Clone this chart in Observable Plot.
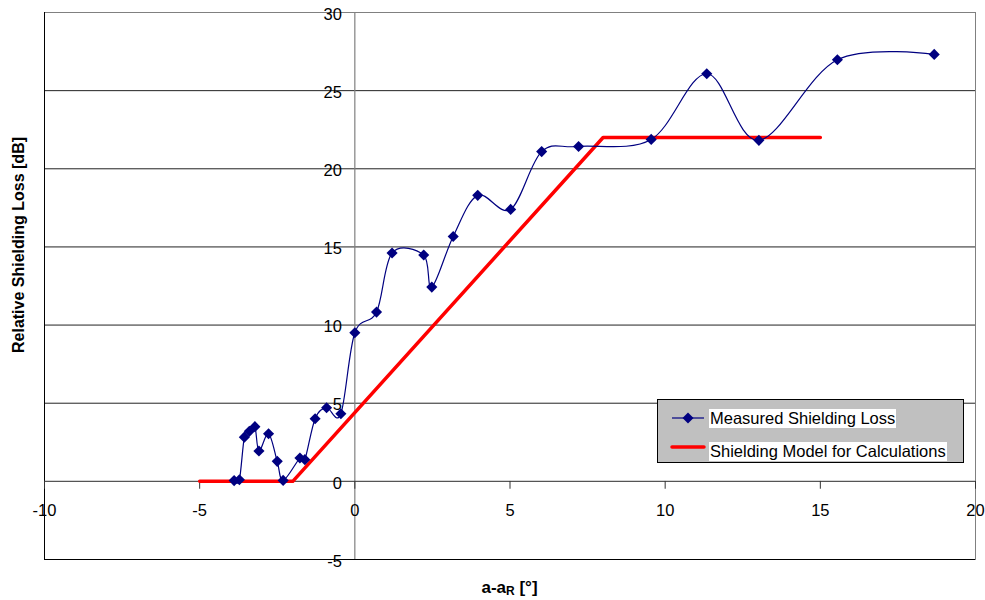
<!DOCTYPE html>
<html>
<head>
<meta charset="utf-8">
<script src="https://cdn.jsdelivr.net/npm/d3@7"></script>
<script src="https://cdn.jsdelivr.net/npm/@observablehq/plot@0.6"></script>
<style>
  body { margin: 0; background: #fff; }
  #wrap { position: relative; width: 985px; height: 600px; font-family: "Liberation Sans", Arial, sans-serif; }
  #wrap svg { display: block; }
  .xtitle { position: absolute; left: 0; width: 1019px; top: 578px; text-align: center; font-weight: bold; font-size: 17px; line-height: 20px; }
  .xtitle sub { font-size: 12px; vertical-align: -2px; }
  .legend { position: absolute; left: 657px; top: 399px; width: 305px; height: 62px; background: #c0c0c0; border: 1px solid #000; font-size: 16.5px; }
  .legend .row { position: absolute; left: 12px; height: 20px; display: flex; align-items: center; }
  .legend .row span { background: #fff; padding: 0 1px; line-height: 19px; }
  .legend svg { display: inline-block; margin-right: 1px; }
</style>
</head>
<body>
<div id="wrap"></div>
<script>
// Measured relative shielding loss versus angle offset a - aR (degrees)
const angle = [-3.89, -3.72, -3.56, -3.40, -3.22, -3.09, -2.78, -2.50, -2.31, -1.77, -1.61, -1.28, -0.91, -0.45,
  0.00, 0.70, 1.20, 2.22, 2.48, 3.17, 3.96, 5.02, 6.02, 7.21, 9.55, 11.34, 13.02, 15.55, 18.67];
const loss = [0.05, 0.10, 2.83, 3.20, 3.50, 1.94, 3.05, 1.28, 0.06, 1.49, 1.39, 4.01, 4.71, 4.33,
  9.51, 10.83, 14.61, 14.48, 12.43, 15.67, 18.30, 17.40, 21.10, 21.43, 21.88, 26.08, 21.82, 26.98, 27.32];

// Piecewise-linear shielding model used for calculations
const modelAngle = [-5, -2, 8, 15];
const modelLoss = [0, 0, 22, 22];

// Axis ticks
const xTicks = [-10, -5, 0, 5, 10, 15, 20];
const yTicks = [-5, 0, 5, 10, 15, 20, 25, 30];
const yGrid = [5, 10, 15, 20, 25, 30];

const measured = angle.map((a, i) => ({a, v: loss[i]}));
const model = modelAngle.map((a, i) => ({a, v: modelLoss[i]}));

// short downward tick drawn from the axis line
const tickDown = {draw(ctx, l) { ctx.moveTo(0, 0); ctx.lineTo(0, l); }};

const chart = Plot.plot({
  width: 985,
  height: 600,
  marginLeft: 44,
  marginRight: 10,
  marginTop: 12,
  marginBottom: 41,
  style: {fontFamily: "'Liberation Sans', Arial, sans-serif", fontSize: "16.5px", background: "#fff"},
  x: {domain: [-10, 20], axis: null},
  y: {domain: [-5, 30], axis: null},
  marks: [
    Plot.ruleY(yGrid, {stroke: "#222", strokeWidth: 1}),
    Plot.frame({stroke: "#808080"}),
    Plot.ruleX([-10], {stroke: "#000"}),
    Plot.ruleY([-5], {stroke: "#000"}),
    Plot.ruleX([0], {stroke: "#808080", strokeWidth: 1.2}),
    Plot.ruleY([0], {stroke: "#555", strokeWidth: 1.2}),
    Plot.vector(xTicks, {x: d => d, y: 0, length: 7, anchor: "start", rotate: 0, shape: tickDown, stroke: "#333", strokeWidth: 1}),
    Plot.text(xTicks, {x: d => d, y: 0, text: d => String(d), dy: 29, fill: "#000"}),
    Plot.text(yTicks, {x: 0, y: d => d, text: d => String(d), dx: -13, dy: 2, textAnchor: "end", fill: "#000"}),
    Plot.line(model, {x: "a", y: "v", stroke: "#ff0000", strokeWidth: 3.5, strokeLinecap: "round"}),
    Plot.line(measured, {x: "a", y: "v", stroke: "#000080", strokeWidth: 1.2, curve: "cardinal"}),
    Plot.dot(measured, {x: "a", y: "v", symbol: "diamond2", r: 5, fill: "#000080", stroke: "none"}),
    Plot.text(["Relative Shielding Loss [dB]"], {frameAnchor: "left", textAnchor: "middle", dx: -26, dy: -41, rotate: -90, fontWeight: "bold", fontSize: 16, fill: "#000"})
  ]
});

const wrap = document.getElementById("wrap");
wrap.appendChild(chart);

const xt = document.createElement("div");
xt.className = "xtitle";
xt.innerHTML = "a-a<sub>R</sub> [°]";
wrap.appendChild(xt);

const legend = document.createElement("div");
legend.className = "legend";
legend.innerHTML = `
  <div class="row" style="top:8px">
    <svg width="38" height="14"><line x1="2" y1="7" x2="34" y2="7" stroke="#000080" stroke-width="1.2"/>
      <path d="M18,1.5 L23.5,7 L18,12.5 L12.5,7 Z" fill="#000080"/></svg>
    <span>Measured Shielding Loss</span></div>
  <div class="row" style="top:41px">
    <svg width="38" height="14"><line x1="2" y1="3" x2="34" y2="3" stroke="#ff0000" stroke-width="3.5" stroke-linecap="round"/></svg>
    <span>Shielding Model for Calculations</span></div>`;
wrap.appendChild(legend);
</script>
</body>
</html>
